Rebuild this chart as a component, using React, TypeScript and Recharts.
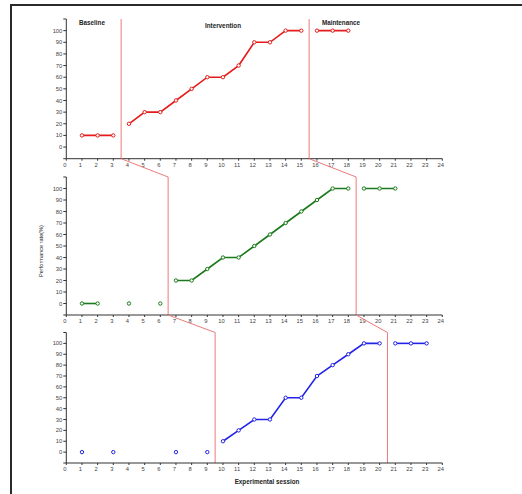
import { LineChart, Line, XAxis, YAxis, ReferenceLine } from 'recharts';

const W = 522;
const H = 494;

// x ticks (experimental sessions) and y ticks (performance rate)
const sessions = [0, 1, 2, 3, 4, 5, 6, 7, 8, 9, 10, 11, 12, 13, 14, 15, 16, 17, 18, 19, 20, 21, 22, 23, 24];
const rateTicks = [-10, 0, 10, 20, 30, 40, 50, 60, 70, 80, 90, 100, 110];

// participant 1 (red)
const p1Baseline = [10, 10, 10]; // sessions 1-3
const p1Intervention = [20, 30, 30, 40, 50, 60, 60, 70, 90, 90, 100, 100]; // 4-15
const p1Maintenance = [100, 100, 100]; // 16-18
const p1Phases = [3.5, 15.5];

// participant 2 (green)
const p2Baseline = [0, 0, null, 0, null, 0]; // sessions 1-6
const p2Intervention = [20, 20, 30, 40, 40, 50, 60, 70, 80, 90, 100, 100]; // 7-18
const p2Maintenance = [100, 100, 100]; // 19-21
const p2Phases = [6.5, 18.5];

// participant 3 (blue)
const p3Baseline = [0, null, 0, null, null, null, 0, null, 0]; // sessions 1-9
const p3Intervention = [10, 20, 30, 30, 50, 50, 70, 80, 90, 100, 100]; // 10-20
const p3Maintenance = [100, 100, 100]; // 21-23
const p3Phases = [9.5, 20.5];

type Row = { session: number; base: number | null; inter: number | null; maint: number | null };

function buildRows(base: (number | null)[], inter: (number | null)[], maint: (number | null)[]): Row[] {
  const rows: Row[] = sessions.map((s) => ({ session: s, base: null, inter: null, maint: null }));
  let s = 1;
  base.forEach((v) => { rows[s].base = v; s++; });
  inter.forEach((v) => { rows[s].inter = v; s++; });
  maint.forEach((v) => { rows[s].maint = v; s++; });
  return rows;
}

const PHASE_COLOR = '#ec7a7a';
const AXIS_COLOR = '#333';
const TICK_FONT = { fontSize: 5.8, fill: '#444', fontFamily: 'Liberation Sans, Arial, sans-serif' };

const PLOT_LEFT = 66.3;
const PLOT_RIGHT = 442.3;
const Y_AXIS_W = 30;
const X_AXIS_H = 12;

const panels = [
  { rows: buildRows(p1Baseline, p1Intervention, p1Maintenance), phases: p1Phases, color: '#e41c1c', top: 19, bottom: 158.7 },
  { rows: buildRows(p2Baseline, p2Intervention, p2Maintenance), phases: p2Phases, color: '#1b7a1b', top: 177, bottom: 315 },
  { rows: buildRows(p3Baseline, p3Intervention, p3Maintenance), phases: p3Phases, color: '#2323e6', top: 332.5, bottom: 463 },
];

function Panel({ index }: { index: number }) {
  const p = panels[index];
  const prev = index > 0 ? panels[index - 1] : null;
  const pxPerUnit = (p.bottom - p.top) / 120;
  const dot = { r: 1.7, fill: '#fff', stroke: p.color, strokeWidth: 1 };
  return (
    <div style={{ position: 'absolute', left: 0, top: 0 }}>
      <LineChart
        width={W}
        height={H}
        data={p.rows}
        margin={{ top: p.top, bottom: H - p.bottom - X_AXIS_H, left: PLOT_LEFT - Y_AXIS_W, right: W - PLOT_RIGHT }}
      >
        <XAxis
          type="number"
          dataKey="session"
          domain={[0, 24]}
          ticks={sessions}
          interval={0}
          height={X_AXIS_H}
          tickSize={2}
          tickMargin={2}
          tick={{ ...TICK_FONT, dx: -1.5 }}
          stroke={AXIS_COLOR}
        />
        <YAxis
          type="number"
          domain={[-10, 110]}
          ticks={rateTicks}
          interval={0}
          width={Y_AXIS_W}
          tickSize={3}
          tickMargin={1}
          tick={TICK_FONT}
          tickFormatter={(v: number) => (v < 0 || v > 100 ? '' : String(v))}
          stroke={AXIS_COLOR}
        />
        {p.phases.map((x) => (
          <ReferenceLine key={`v-${x}`} x={x} stroke={PHASE_COLOR} strokeWidth={1} />
        ))}
        {prev &&
          p.phases.map((x, i) => (
            <ReferenceLine
              key={`d-${x}`}
              ifOverflow="visible"
              segment={[
                { x: prev.phases[i], y: 110 + (p.top - prev.bottom) / pxPerUnit },
                { x, y: 110 },
              ]}
              stroke={PHASE_COLOR}
              strokeWidth={1}
            />
          ))}
        {(['base', 'inter', 'maint'] as const).map((k) => (
          <Line
            key={k}
            dataKey={k}
            stroke={p.color}
            strokeWidth={1.6}
            dot={dot}
            activeDot={false}
            isAnimationActive={false}
          />
        ))}
      </LineChart>
    </div>
  );
}

const titleStyle: React.CSSProperties = {
  position: 'absolute',
  fontFamily: 'Liberation Sans, Arial, sans-serif',
  fontWeight: 'bold',
  fontSize: 6.3,
  color: '#222',
  transform: 'translate(-50%, -50%)',
  whiteSpace: 'nowrap',
};

export default function App() {
  return (
    <div style={{ position: 'absolute', left: 0, top: 0, width: W, height: H, overflow: 'hidden', background: '#fff' }}>
      <div
        style={{
          position: 'absolute',
          left: 10,
          top: 4,
          width: W,
          height: H,
          borderLeft: '2px solid #2a2a2a',
          borderTop: '2px solid #2a2a2a',
        }}
      />
      {panels.map((_, i) => (
        <Panel key={i} index={i} />
      ))}
      <div style={{ ...titleStyle, left: 92, top: 22 }}>Baseline</div>
      <div style={{ ...titleStyle, left: 223, top: 24.5 }}>Intervention</div>
      <div style={{ ...titleStyle, left: 341, top: 21.5 }}>Maintenance</div>
      <div style={{ ...titleStyle, left: 267, top: 481 }}>Experimental session</div>
      <div
        style={{
          ...titleStyle,
          fontWeight: 'normal',
          fontSize: 5.6,
          left: 41,
          top: 251,
          transform: 'translate(-50%, -50%) rotate(-90deg)',
        }}
      >
        Performance rate(%)
      </div>
    </div>
  );
}
